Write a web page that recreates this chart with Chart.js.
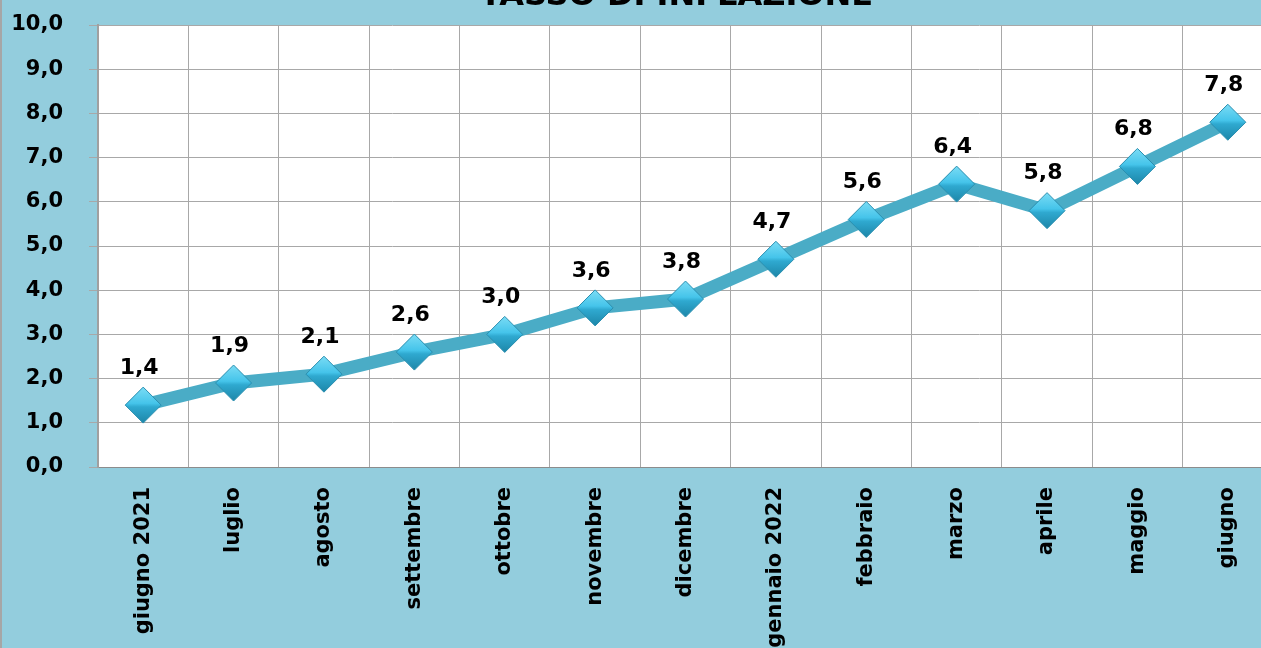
<!DOCTYPE html>
<html>
<head>
<meta charset="utf-8">
<script src="https://cdn.jsdelivr.net/npm/chart.js@4/dist/chart.umd.min.js"></script>
<style>
html, body { margin: 0; padding: 0; background: #93cddd; overflow: hidden; }
#wrap { position: relative; width: 1261px; height: 648px; overflow: hidden; }
#chart { position: absolute; left: 0; top: 0; }
</style>
</head>
<body>
<div id="wrap"><canvas id="chart" width="1292" height="700"></canvas></div>
<script>
var mesi = ["giugno 2021", "luglio", "agosto", "settembre", "ottobre", "novembre", "dicembre",
            "gennaio 2022", "febbraio", "marzo", "aprile", "maggio", "giugno"];
var inflazione = [1.4, 1.9, 2.1, 2.6, 3.0, 3.6, 3.8, 4.7, 5.6, 6.4, 5.8, 6.8, 7.8];
var titolo = "TASSO DI INFLAZIONE";
var yMin = 0, yMax = 10, yPasso = 1;

var font = "DejaVu Sans";

function virgola(v) {
  return Number(v).toFixed(1).replace(".", ",");
}

// sfondo azzurro + area del grafico bianca
var sfondo = {
  id: "sfondo",
  beforeDraw: function(chart) {
    var ctx = chart.ctx, a = chart.chartArea;
    ctx.save();
    ctx.fillStyle = "#93cddd";
    ctx.fillRect(0, 0, chart.width, chart.height);
    ctx.fillStyle = "#a6a6a6";
    ctx.fillRect(0, 0, 2, chart.height);
    ctx.fillStyle = "#ffffff";
    ctx.fillRect(a.left, a.top, a.right - a.left, a.bottom - a.top);
    ctx.restore();
  }
};

// etichette dei valori sopra i punti + titolo tagliato in alto
var etichette = {
  id: "etichette",
  afterDatasetsDraw: function(chart) {
    var ctx = chart.ctx;
    var meta = chart.getDatasetMeta(0);
    ctx.save();
    ctx.fillStyle = "#000";
    ctx.font = "bold 22px '" + font + "'";
    ctx.textAlign = "center";
    ctx.textBaseline = "middle";
    meta.data.forEach(function(p, i) {
      ctx.fillText(virgola(inflazione[i]), p.x - 4, p.y - 37);
    });
    var a = chart.chartArea;
    ctx.font = "bold 32px '" + font + "'";
    ctx.textBaseline = "alphabetic";
    ctx.fillText(titolo, (a.left + a.right) / 2 - 9, 5);
    ctx.restore();
  }
};

function rombo(context) {
  var chart = context.chart;
  if (!chart.scales || !chart.scales.y || context.parsed == null) return "#3bb8de";
  var py = chart.scales.y.getPixelForValue(context.parsed.y);
  if (!isFinite(py)) return "#3bb8de";
  var g = chart.ctx.createLinearGradient(0, py - 18, 0, py + 18);
  g.addColorStop(0, "#7adcf5");
  g.addColorStop(0.45, "#45c4ea");
  g.addColorStop(0.55, "#2fa9d0");
  g.addColorStop(1, "#1d86a8");
  return g;
}

new Chart(document.getElementById("chart"), {
  type: "line",
  data: {
    labels: mesi,
    datasets: [{
      label: titolo,
      data: inflazione,
      borderColor: "#4aacc6",
      borderWidth: 13,
      tension: 0,
      pointStyle: "rectRot",
      pointRadius: 18,
      pointBackgroundColor: rombo,
      pointBorderColor: "#2a8fb0",
      pointBorderWidth: 1
    }]
  },
  options: {
    responsive: false,
    devicePixelRatio: 1,
    animation: false,
    events: [],
    layout: { padding: { top: 25, left: 0, right: 2, bottom: 0 } },
    plugins: {
      legend: { display: false },
      title: { display: false },
      tooltip: { enabled: false }
    },
    scales: {
      x: {
        type: "category",
        offset: true,
        grid: { offset: true, color: "#a8a8a8", lineWidth: 1, drawTicks: false },
        border: { color: "#8c8c8c", width: 1 },
        ticks: {
          autoSkip: false,
          minRotation: 90,
          maxRotation: 90,
          padding: 20,
          color: "#000",
          font: { family: font, size: 21, weight: "bold" }
        },
        afterFit: function(scale) { scale.height = 233; }
      },
      y: {
        min: yMin,
        max: yMax,
        grid: { color: "#a8a8a8", lineWidth: 1, tickLength: 9 },
        border: { color: "#a0a0a0", width: 2 },
        ticks: {
          stepSize: yPasso,
          padding: 26,
          color: "#000",
          font: { family: font, size: 21, weight: "bold" },
          callback: function(v) { return virgola(v); }
        },
        afterFit: function(scale) {
          scale.width = 98;
          scale.paddingTop = 0;
          scale.paddingBottom = 0;
        }
      }
    }
  },
  plugins: [sfondo, etichette]
});
</script>
</body>
</html>
